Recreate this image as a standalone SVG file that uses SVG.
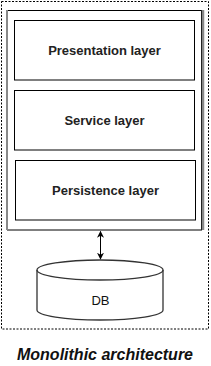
<svg xmlns="http://www.w3.org/2000/svg" width="211" height="366" viewBox="0 0 211 366">
<defs>
<style>
.box{fill:#fff;stroke:#000;stroke-width:1}
.lbl{font-family:"Liberation Sans",Arial,sans-serif;font-size:13px;font-weight:bold;fill:#222;text-anchor:middle}
.db{font-family:"Liberation Sans",Arial,sans-serif;font-size:13px;fill:#111;text-anchor:middle}
.title{font-family:"Liberation Sans",Arial,sans-serif;font-size:16px;font-weight:bold;font-style:italic;fill:#111;text-anchor:middle}
</style>
<marker id="ah" viewBox="0 0 10 10" refX="9" refY="5" markerWidth="7" markerHeight="7" orient="auto-start-reverse" markerUnits="userSpaceOnUse">
<path d="M0,0 L10,5 L0,10 L3,5 Z" fill="#000"/>
</marker>
</defs>
<rect width="211" height="366" fill="#fff"/>
<g id="boundary">
<rect x="1.5" y="1.5" width="207" height="327.5" fill="none" stroke="#000" stroke-width="1" stroke-dasharray="2,1.5"/>
</g>
<g id="container">
<rect x="7.5" y="10.5" width="194" height="219.5" fill="#fff" stroke="#000" stroke-width="1"/>
<line x1="7" y1="10" x2="7" y2="230" stroke="#888" stroke-width="2"/>
<line x1="203" y1="10" x2="203" y2="230" stroke="#888" stroke-width="2.5"/>
</g>
<g id="presentation">
<rect class="box" x="14.5" y="20.5" width="180" height="59.5"/>
<text class="lbl" x="104.5" y="54.5">Presentation layer</text>
</g>
<g id="service">
<rect class="box" x="14.5" y="90.5" width="180" height="59.5"/>
<text class="lbl" x="104.5" y="124.5">Service layer</text>
</g>
<g id="persistence">
<rect class="box" x="15.5" y="160.5" width="180" height="59.5"/>
<text class="lbl" x="105.5" y="194.5">Persistence layer</text>
</g>
<g id="db">
<path d="M37,270 A63,10 0 0 1 163,270 L163,310 A63,10 0 0 1 37,310 Z" fill="#fff" stroke="#333" stroke-width="1.3"/>
<path d="M37,270 A63,10 0 0 0 163,270" fill="none" stroke="#333" stroke-width="1.3"/>
<text class="db" x="100.5" y="304.5">DB</text>
</g>
<g id="connectors">
<line x1="100.5" y1="231.5" x2="100.5" y2="259" stroke="#000" stroke-width="1" marker-start="url(#ah)" marker-end="url(#ah)"/>
</g>
<g id="caption">
<text class="title" x="105" y="360">Monolithic architecture</text>
</g>
</svg>
